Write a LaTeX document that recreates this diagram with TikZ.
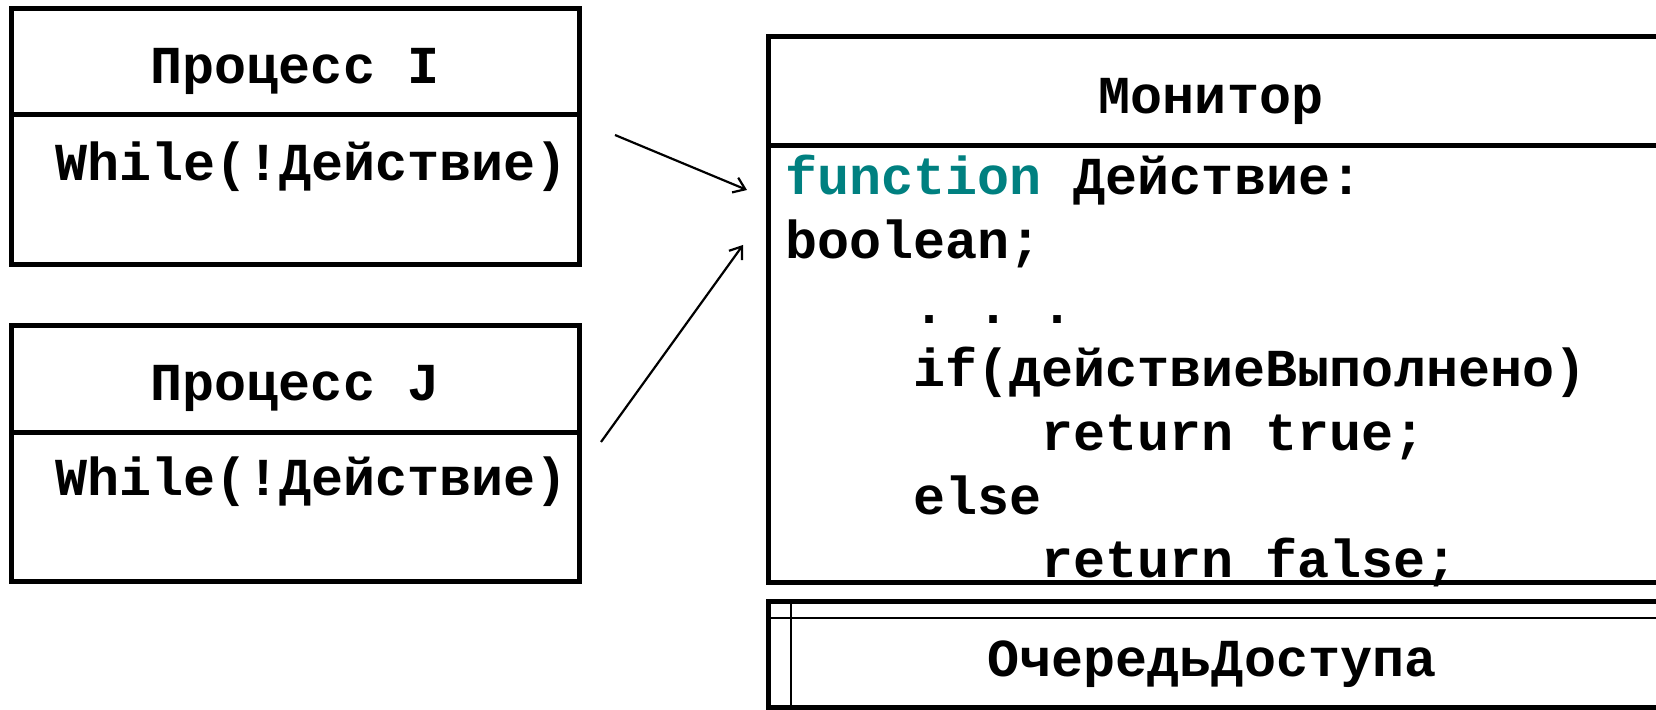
\documentclass[tikz,border=0pt]{standalone}
\usepackage{fontspec}
\setmonofont{Liberation Mono}
\usetikzlibrary{arrows.meta}
\definecolor{kwteal}{RGB}{0,128,128}
\begin{document}
\begin{tikzpicture}[x=0.5pt,y=-0.5pt,
  box/.style={draw, line width=2.5pt, rectangle, inner sep=0pt, outer sep=0pt},
  txt/.style={inner sep=0pt, font=\ttfamily\bfseries\fontsize{26.7pt}{32pt}\selectfont},
  code/.style={txt, anchor=base west},
  ttl/.style={txt, anchor=base},
  sep/.style={line width=2.5pt},
  thinline/.style={line width=1pt},
  conn/.style={line width=1.1pt, -{Straight Barb[length=5.5pt,width=8pt]}}]
\useasboundingbox (0,0) rectangle (1656,710);

% Process I
\node[box, minimum width=284pt, minimum height=128pt] (pI) at (295,137) {};
\draw[sep] (11,115) -- (579,115);
\node[ttl] (pIt) at (295,84) {Процесс I};
\node[code] (pIc) at (55,181) {While(!Действие)};

% Process J
\node[box, minimum width=284pt, minimum height=128pt] (pJ) at (295,454) {};
\draw[sep] (11,433) -- (579,433);
\node[ttl] (pJt) at (295,401) {Процесс J};
\node[code] (pJc) at (55,496) {While(!Действие)};

% Monitor
\node[box, minimum width=446pt, minimum height=273pt] (mon) at (1214,310) {};
\draw[sep] (768,146) -- (1660,146);
\node[ttl] (mont) at (1211,114) {Монитор};
\node[code] (m1) at (785,195) {\textcolor{kwteal}{function} Действие:};
\node[code] (m2) at (785,259) {boolean;};
\node[code] (m3) at (913,324) {.\ .\ .};
\node[code] (m4) at (913,387) {if(действиеВыполнено)};
\node[code] (m5) at (1041,451) {return true;};
\node[code] (m6) at (913,515) {else};
\node[code] (m7) at (1041,578) {return false;};

% Queue
\node[box, minimum width=446pt, minimum height=53pt] (q) at (1214,655) {};
\draw[thinline] (766,618) -- (1660,618);
\draw[thinline] (791,602) -- (791,708);
\node[ttl] (qt) at (1212,677) {ОчередьДоступа};

% Arrows
\coordinate (a1s) at (615,135);
\coordinate (a1e) at (747,190);
\coordinate (a2s) at (601,442);
\coordinate (a2e) at (743,245);
\draw[conn] (a1s) -- (a1e);
\draw[conn] (a2s) -- (a2e);
\end{tikzpicture}
\end{document}
